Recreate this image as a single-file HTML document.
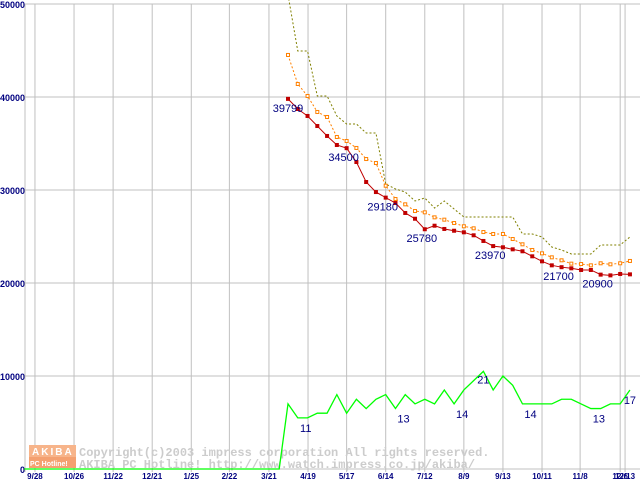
<!DOCTYPE html>
<html><head><meta charset="utf-8"><style>
body{margin:0;background:#fff;width:640px;height:480px;overflow:hidden}
svg{display:block}
</style></head><body>
<svg id="chart" width="640" height="480" xmlns="http://www.w3.org/2000/svg" font-family="Liberation Sans, sans-serif">
<g id="grid"></g>
<g id="watermark">
<rect x="29" y="445" width="47" height="12" fill="#f7b48a"/>
<rect x="29" y="457" width="47" height="11" fill="#f4a070"/>
<text x="32" y="455" font-size="10" font-weight="bold" fill="#fff" letter-spacing="2">AKIBA</text>
<text x="30" y="466" font-size="7" font-weight="bold" fill="#fff">PC Hotline!</text>
<text x="79" y="456" font-size="12" style="font-family:'Liberation Mono',monospace" font-weight="bold" fill="#cccccc">Copyright(c)2003 impress corporation All rights reserved.</text>
<text x="79" y="468" font-size="12" style="font-family:'Liberation Mono',monospace" font-weight="bold" fill="#cccccc">AKIBA PC Hotline!  http://www.watch.impress.co.jp/akiba/</text>
</g>
<g id="series"></g>
<g id="labels"></g>
</svg>
<script>
const yTicks=[50000,40000,30000,20000,10000,0];
const xTickLabels=["9/28","10/26","11/22","12/21","1/25","2/22","3/21","4/19","5/17","6/14","7/12","8/9","9/13","10/11","11/8","12/6","12/13"];
const xTickWeeks=[-25.9,-21.9,-17.9,-13.9,-9.9,-6,-1.95,2.05,6,10,14,18,22,26,29.9,34,34.5];
const redPrice=[39799,38710,37960,36880,35810,34840,34500,33010,30860,29780,29180,28600,27530,26910,25780,26160,25810,25620,25450,25130,24520,23970,23840,23620,23410,22870,22330,21900,21700,21580,21400,21400,20900,20820,20970,20930];
const orangePrice=[44520,41400,40110,38390,37850,35700,35270,34520,33330,32900,30460,29030,28460,27740,27600,27060,26810,26450,26100,25880,25480,25270,25270,24730,24160,23550,23190,22760,22440,22080,22040,21900,22120,22010,22120,22370];
const olivePrice=[51000,44950,44950,40110,40110,37960,37100,37100,36130,36130,30650,30110,29780,28820,29140,28060,28820,27960,27100,27100,27100,27100,27100,27100,25270,25270,24950,23870,23550,23120,23120,23120,24090,24090,24090,24950];
const shopCount=[14,11,11,12,12,16,12,15,13,15,16,13,16,14,15,14,17,14,17,19,21,17,20,18,14,14,14,14,15,15,14,13,13,14,14,17];
const redLabelIdx=[0,6,10,14,21,28,32];
const countLabelIdx=[1,11,17,20,24,31,35];

const NS="http://www.w3.org/2000/svg";
const X0=288, WK=9.77;
function xs(i){return X0+i*WK;}
function ys(v){return 469-v*0.0093;}
function yc(c){return ys(c*500);}
function mk(tag,attrs,parent){const e=document.createElementNS(NS,tag);for(const k in attrs)e.setAttribute(k,attrs[k]);parent.appendChild(e);return e;}
const grid=document.getElementById('grid'),ser=document.getElementById('series'),lab=document.getElementById('labels');
yTicks.forEach(v=>{
  const l=mk('line',{x1:25,x2:640,y1:ys(v),y2:ys(v),stroke:'#c0c0c0','stroke-width':1},grid);
  
  
  const t=mk('text',{x:v===0?20:0,y:ys(v)+4,'font-size':9,'font-weight':'bold',fill:'#000080'},grid);
  t.textContent=String(v);
  
  
});
mk('line',{x1:25,x2:25,y1:4,y2:472,stroke:'#c0c0c0'},grid);
xTickLabels.forEach((s,k)=>{
  const x=xs(xTickWeeks[k]);
  const l=mk('line',{x1:x,x2:x,y1:4,y2:472,stroke:'#c0c0c0','stroke-width':1},grid);
  
  
  const t=mk('text',{x:x,y:479,'font-size':8,'font-weight':'bold',fill:'#000080','text-anchor':'middle'},grid);
  t.textContent=s;
  
  
});
function pts(arr,f){return arr.map((v,i)=>xs(i)+','+f(v)).join(' ');}
let g=xs(-27)+','+yc(0)+' '+xs(-0.9)+','+yc(0)+' '+pts(shopCount,yc);
const gl=mk('polyline',{points:g,fill:'none',stroke:'#00ff00','stroke-width':1.3},ser);


const ol=mk('polyline',{points:pts(olivePrice,ys),fill:'none',stroke:'#808000','stroke-width':1,'stroke-dasharray':'2,2'},ser);


const orl=mk('polyline',{points:pts(orangePrice,ys),fill:'none',stroke:'#ff8000','stroke-width':1,'stroke-dasharray':'2,2'},ser);


orangePrice.forEach((v,i)=>{
  const r=mk('rect',{x:xs(i)-1.5,y:ys(v)-1.5,width:3,height:3,fill:'#fff',stroke:'#ff8000','stroke-width':1},ser);
  
  
});
const rl=mk('polyline',{points:pts(redPrice,ys),fill:'none',stroke:'#c00000','stroke-width':1},ser);


redPrice.forEach((v,i)=>{
  const r=mk('rect',{x:xs(i)-2,y:ys(v)-2,width:4,height:4,fill:'#c00000'},ser);
  
  
});
redLabelIdx.forEach(i=>{
  const t=mk('text',{x:i===0?xs(0):xs(i)-3,y:ys(redPrice[i])+13,'font-size':11,fill:'#000080','text-anchor':'middle'},lab);
  t.textContent=String(redPrice[i]);
  
  
});
countLabelIdx.forEach(i=>{
  const t=mk('text',{x:xs(i)+(i===35?0:(i===20?0:8)),y:yc(shopCount[i])+(i===20?12:14),'font-size':11,fill:'#000080','text-anchor':'middle'},lab);
  t.textContent=String(shopCount[i]);
  
  
});
</script>
</body></html>
